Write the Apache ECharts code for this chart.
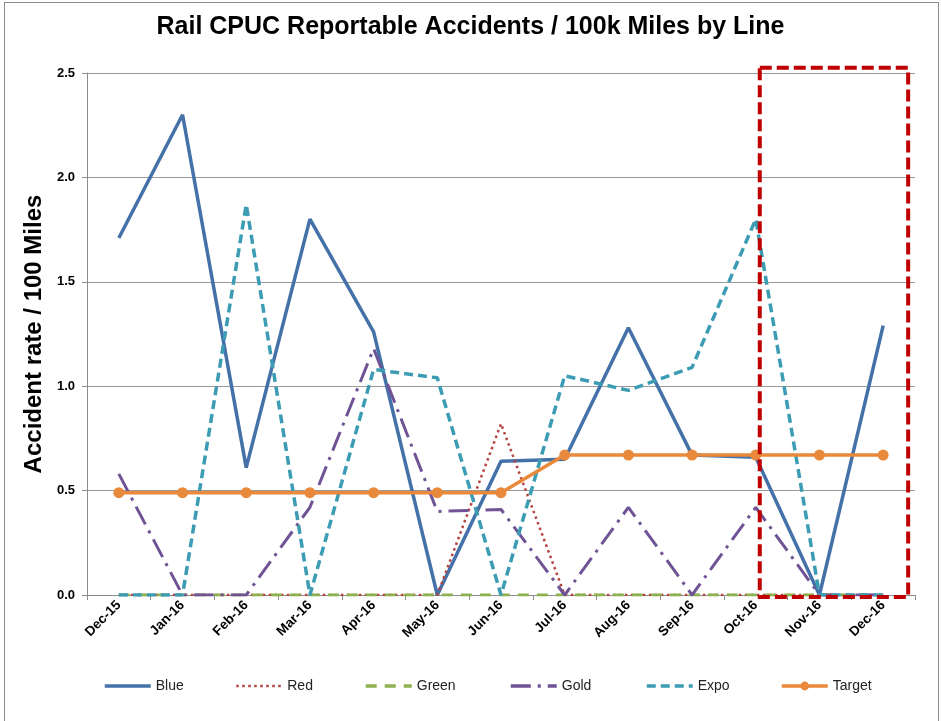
<!DOCTYPE html>
<html>
<head>
<meta charset="utf-8">
<script src="https://cdn.jsdelivr.net/npm/echarts@6/dist/echarts.min.js"></script>
<style>
  html, body { margin: 0; padding: 0; background: #fff; }
  #frame { position: absolute; left: 4px; top: 2px; width: 933px; height: 740px; border: 1px solid #8c8c8c; }
  #chart-container { position: absolute; left: 0; top: 0; width: 941px; height: 721px; }
</style>
</head>
<body>
<div id="frame"></div>
<div id="chart-container"></div>
<script>
var months = ['Dec-15', 'Jan-16', 'Feb-16', 'Mar-16', 'Apr-16', 'May-16', 'Jun-16',
              'Jul-16', 'Aug-16', 'Sep-16', 'Oct-16', 'Nov-16', 'Dec-16'];

var blue   = [1.71, 2.30, 0.61, 1.80, 1.26, 0.00, 0.64, 0.65, 1.28, 0.67, 0.66, 0.00, 1.29];
var red    = [0, 0, 0, 0, 0, 0, 0.82, 0, 0, 0, 0, 0, 0];
var green  = [0, 0, 0, 0, 0, 0, 0, 0, 0, 0, 0, 0, 0];
var gold   = [0.58, 0.00, 0.00, 0.42, 1.18, 0.40, 0.41, 0.00, 0.42, 0.00, 0.42, 0.00, 0.00];
var expo   = [0.00, 0.00, 1.87, 0.00, 1.08, 1.04, 0.00, 1.05, 0.98, 1.09, 1.80, 0.00, 0.00];
var target = [0.49, 0.49, 0.49, 0.49, 0.49, 0.49, 0.49, 0.67, 0.67, 0.67, 0.67, 0.67, 0.67];

var yTicks = [0, 0.5, 1, 1.5, 2, 2.5];

var font = 'Liberation Sans';

var dom = document.getElementById('chart-container');
var myChart = echarts.init(dom, null, { renderer: 'canvas' });

function lineSeries(name, data, color, type, width) {
  return {
    name: name,
    type: 'line',
    data: data,
    symbol: 'none',
    color: color,
    lineStyle: { color: color, width: width, type: type },
    animation: false
  };
}

var legendLefts = [98, 230, 359, 504, 640, 775];
var legendNames = ['Blue', 'Red', 'Green', 'Gold', 'Expo', 'Target'];

var option = {
  backgroundColor: 'transparent',
  title: {
    text: 'Rail CPUC Reportable Accidents / 100k Miles by Line',
    left: 'center',
    top: 10,
    textStyle: { fontFamily: font, fontWeight: 'bold', fontSize: 25, color: '#000' }
  },
  legend: legendNames.map(function (n, i) {
    var l = {
      data: [n],
      left: legendLefts[i],
      top: 674,
      itemWidth: 46,
      itemHeight: 11,
      lineStyle: { width: n === 'Red' ? 2.5 : 3.5 },
      textStyle: { fontFamily: font, fontSize: 14, color: '#222' }
    };
    // only the Target line carries markers
    if (n !== 'Target') l.itemStyle = { opacity: 0 };
    return l;
  }),
  grid: { left: 87, right: 26, top: 73, bottom: 126 },
  xAxis: {
    type: 'category',
    data: months,
    boundaryGap: true,
    axisLine: { lineStyle: { color: '#8c8c8c', width: 1 } },
    axisTick: { show: true, length: 5, lineStyle: { color: '#8c8c8c' } },
    axisLabel: {
      rotate: 45,
      margin: 8,
      fontFamily: font,
      fontWeight: 'bold',
      fontSize: 13.5,
      color: '#000'
    }
  },
  yAxis: {
    type: 'value',
    min: 0,
    max: 2.5,
    interval: 0.5,
    name: 'Accident rate / 100 Miles',
    nameLocation: 'middle',
    nameRotate: 90,
    nameGap: 40,
    nameTextStyle: { fontFamily: font, fontWeight: 'bold', fontSize: 24, color: '#000' },
    axisLine: { show: true, lineStyle: { color: '#8c8c8c', width: 1 } },
    axisTick: { show: true, length: 5, lineStyle: { color: '#8c8c8c' } },
    splitLine: { lineStyle: { color: '#9a9a9a', width: 1 } },
    axisLabel: {
      fontFamily: font,
      fontWeight: 'bold',
      fontSize: 13,
      color: '#000',
      margin: 12,
      formatter: function (v) { return yTicks.indexOf(v) >= 0 ? v.toFixed(1) : ''; }
    }
  },
  series: [
    lineSeries('Blue', blue, '#4471a8', 'solid', 3.5),
    lineSeries('Red', red, '#b3433e', [2.5, 3.5], 2.5),
    lineSeries('Green', green, '#8db14e', [11, 8], 3),
    lineSeries('Gold', gold, '#6f5395', [20, 7, 3, 7], 3),
    lineSeries('Expo', expo, '#3c9cb4', [9, 5], 3.5),
    {
      name: 'Target',
      type: 'line',
      data: target,
      symbol: 'circle',
      symbolSize: 11,
      showSymbol: true,
      color: '#e8893b',
      itemStyle: { color: '#e8893b' },
      lineStyle: { color: '#e8893b', width: 3.5 },
      animation: false
    }
  ]
};

myChart.setOption(option);

// highlight box around the last three months
var xL = myChart.convertToPixel({ xAxisIndex: 0 }, 'Oct-16') + 4;
var xR = myChart.convertToPixel({ xAxisIndex: 0 }, 'Dec-16') + 25;
var yT = myChart.convertToPixel({ yAxisIndex: 0 }, 2.525);
var yB = myChart.convertToPixel({ yAxisIndex: 0 }, -0.01);
myChart.setOption({
  graphic: [{
    type: 'rect',
    z: 100,
    shape: { x: xL, y: yT, width: xR - xL, height: yB - yT },
    style: { fill: 'none', stroke: '#c00000', lineWidth: 4, lineDash: [12, 5] }
  }]
});

window.addEventListener('resize', myChart.resize);
</script>
</body>
</html>
